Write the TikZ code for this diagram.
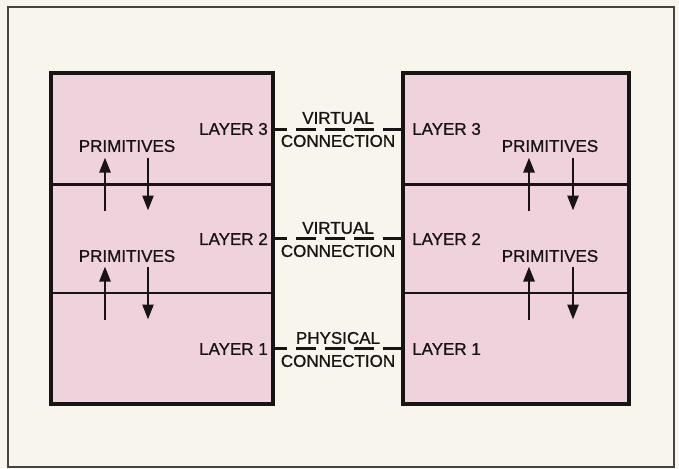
\documentclass[tikz,border=0pt]{standalone}
\usepackage{fontspec}
\setmainfont{Liberation Sans}[FakeBold=0.9]
\usetikzlibrary{arrows.meta}
\definecolor{bgcream}{RGB}{248,245,237}
\definecolor{boxpink}{RGB}{240,210,220}
\definecolor{ink}{RGB}{25,20,20}
\tikzset{
  layerbox/.style={draw=ink, line width=3.8pt, fill=boxpink},
  divider/.style={draw=ink, line width=2.4pt},
  lbl/.style={font=\fontsize{17}{19}\selectfont, text=ink, inner sep=0pt},
  conn/.style={draw=ink, line width=3pt, dash pattern=on 20pt off 9pt, dash phase=6pt},
  prim/.style={draw=ink, line width=2.6pt, -{Triangle[width=11pt,length=15pt]}},
}
\begin{document}
\begin{tikzpicture}[x=1pt,y=-1pt]
\useasboundingbox (0,0) rectangle (679,468);
\fill[bgcream] (0,0) rectangle (679,468);
\draw[draw=ink!80, line width=1.3pt] (8,7) rectangle (674,467);

% boxes
\draw[layerbox] (51,73) rectangle (273,404);
\draw[layerbox] (403,73) rectangle (629,404);
\draw[divider] (51,184.5) -- (273,184.5);
\draw[divider] (51,293) -- (273,293);
\draw[divider] (403,184.5) -- (629,184.5);
\draw[divider] (403,293) -- (629,293);
\draw[layerbox, fill=none] (51,73) rectangle (273,404);
\draw[layerbox, fill=none] (403,73) rectangle (629,404);

% layer labels
\node[lbl, anchor=east] (L3) at (268,129) {LAYER 3};
\node[lbl, anchor=east] (L2) at (268,239) {LAYER 2};
\node[lbl, anchor=east] (L1) at (268,349) {LAYER 1};
\node[lbl, anchor=west] (R3) at (412,129) {LAYER 3};
\node[lbl, anchor=west] (R2) at (412,239) {LAYER 2};
\node[lbl, anchor=west] (R1) at (412,349) {LAYER 1};

% connection end points
\coordinate (a3) at (273,129);  \coordinate (b3) at (403,129);
\coordinate (a2) at (273,238);  \coordinate (b2) at (403,238);
\coordinate (a1) at (273,348.5);\coordinate (b1) at (403,348.5);
\draw[conn] (a3) -- (b3);
\draw[conn] (a2) -- (b2);
\draw[conn] (a1) -- (b1);

\node[lbl] (v3) at (338,118) {VIRTUAL};
\node[lbl] (c3) at (338,141) {CONNECTION};
\node[lbl] (v2) at (338,228) {VIRTUAL};
\node[lbl] (c2) at (338,251) {CONNECTION};
\node[lbl] (v1) at (338,338) {PHYSICAL};
\node[lbl] (c1) at (338,361) {CONNECTION};

% primitives
\node[lbl] (pl3) at (127,146) {PRIMITIVES};
\node[lbl] (pl2) at (127,256) {PRIMITIVES};
\node[lbl] (pr3) at (550,146) {PRIMITIVES};
\node[lbl] (pr2) at (550,256) {PRIMITIVES};

\foreach \n/\x in {l1/105,l2/148,r1/529,r2/573}{
  \coordinate (\n tA) at (\x,157.5);
  \coordinate (\n bA) at (\x,210.5);
  \coordinate (\n tB) at (\x,266.5);
  \coordinate (\n bB) at (\x,319.5);
}
\draw[prim] (l1bA) -- (l1tA);
\draw[prim] (l2tA) -- (l2bA);
\draw[prim] (l1bB) -- (l1tB);
\draw[prim] (l2tB) -- (l2bB);
\draw[prim] (r1bA) -- (r1tA);
\draw[prim] (r2tA) -- (r2bA);
\draw[prim] (r1bB) -- (r1tB);
\draw[prim] (r2tB) -- (r2bB);
\end{tikzpicture}
\end{document}
